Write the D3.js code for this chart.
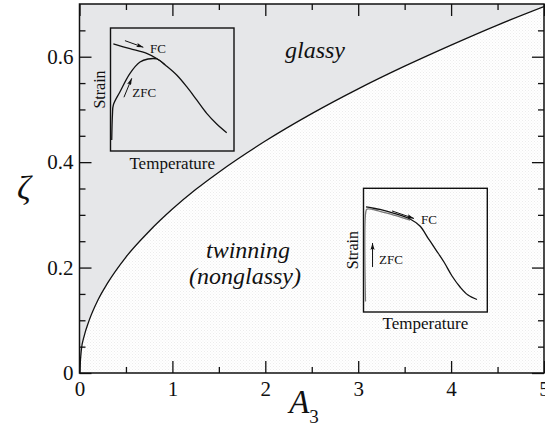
<!DOCTYPE html>
<html>
<head>
<meta charset="utf-8">
<script src="https://cdn.jsdelivr.net/npm/d3@7"></script>
<style>
  html, body { margin: 0; padding: 0; background: #fff; }
  svg { display: block; }
  text { font-family: "Liberation Serif", "DejaVu Serif", serif; fill: #111; }
</style>
</head>
<body>
<svg id="chart" width="545" height="429"></svg>
<script>
// Phase boundary between glassy and twinning regimes
const boundaryA3   = [0, 0.02, 0.05, 0.1, 0.2, 0.3, 0.5, 0.75, 1, 1.25, 1.5, 2, 2.5, 3, 3.5, 4, 4.5, 5];
const boundaryZeta = [0, 0.044, 0.070, 0.098, 0.139, 0.170, 0.220, 0.269, 0.311, 0.348, 0.381, 0.440, 0.492, 0.539, 0.582, 0.622, 0.660, 0.695];

const xTicks = [0, 1, 2, 3, 4, 5];
const xMinor = [0.5, 1.5, 2.5, 3.5, 4.5];
const yTicks = [0, 0.2, 0.4, 0.6];
const yMinor = [0.05, 0.1, 0.15, 0.25, 0.3, 0.35, 0.45, 0.5, 0.55, 0.65];

// Schematic strain vs temperature curves (normalized inset units)
const glassyFcT   = [0.023, 0.158, 0.293, 0.377, 0.455, 0.536, 0.617, 0.698, 0.779, 0.860, 0.941];
const glassyFcS   = [0.870, 0.832, 0.794, 0.750, 0.690, 0.618, 0.523, 0.415, 0.306, 0.220, 0.149];
const glassyZfcT  = [0.010, 0.016, 0.023, 0.077, 0.158, 0.239, 0.304, 0.377, 0.441];
const glassyZfcS  = [0.089, 0.300, 0.374, 0.482, 0.632, 0.724, 0.748, 0.748, 0.702];

const twinFcT  = [0.020, 0.069, 0.133, 0.254, 0.376, 0.456, 0.521, 0.586, 0.650, 0.715, 0.780, 0.844, 0.917];
const twinFcS  = [0.849, 0.841, 0.829, 0.796, 0.752, 0.695, 0.598, 0.501, 0.404, 0.291, 0.202, 0.137, 0.101];
const twinZfcT = [0.016, 0.018, 0.028, 0.133, 0.254, 0.376];
const twinZfcS = [0.085, 0.805, 0.832, 0.814, 0.781, 0.742];

const svg = d3.select("#chart");
const M = { left: 79.5, right: 544, top: 4, bottom: 373 };

const x = d3.scaleLinear().domain([0, 5]).range([M.left, M.right]);
const y = d3.scaleLinear().domain([0, 0.7]).range([M.bottom, M.top]);

const defs = svg.append("defs");
defs.append("clipPath").attr("id", "plotClip")
  .append("rect").attr("x", M.left).attr("y", M.top)
  .attr("width", M.right - M.left).attr("height", M.bottom - M.top);

// faint stipple for the twinning region
const pat = defs.append("pattern").attr("id", "stipple")
  .attr("patternUnits", "userSpaceOnUse").attr("width", 3).attr("height", 3);
pat.append("rect").attr("width", 3).attr("height", 3).attr("fill", "#ffffff");
pat.append("rect").attr("x", 0).attr("y", 0).attr("width", 1).attr("height", 1).attr("fill", "#ececec");
pat.append("rect").attr("x", 1.5).attr("y", 1.5).attr("width", 1).attr("height", 1).attr("fill", "#f1f1f1");

defs.append("marker").attr("id", "arrow")
  .attr("viewBox", "0 0 10 6").attr("refX", 10).attr("refY", 3)
  .attr("markerWidth", 7).attr("markerHeight", 4.2)
  .attr("markerUnits", "userSpaceOnUse").attr("orient", "auto")
  .append("path").attr("d", "M0,0 L10,3 L0,6 L2,3 Z").attr("fill", "#111");

const boundary = boundaryA3.map((a, i) => [a, boundaryZeta[i]]);
const plot = svg.append("g").attr("clip-path", "url(#plotClip)");

plot.append("path").datum(boundary)
  .attr("fill", "#e6e7e9")
  .attr("d", d3.area().x(d => x(d[0])).y0(y(0.7)).y1(d => y(d[1])).curve(d3.curveMonotoneX));
plot.append("path").datum(boundary)
  .attr("fill", "url(#stipple)")
  .attr("d", d3.area().x(d => x(d[0])).y0(y(0)).y1(d => y(d[1])).curve(d3.curveMonotoneX));
plot.append("path").datum(boundary)
  .attr("fill", "none").attr("stroke", "#111").attr("stroke-width", 1.3)
  .attr("d", d3.line().x(d => x(d[0])).y(d => y(d[1])).curve(d3.curveMonotoneX));

// axes with inward ticks on all four sides
function styleAxis(g) {
  g.select(".domain").remove();
  g.selectAll("line").attr("stroke", "#111").attr("stroke-width", 1.3);
  g.selectAll("text").attr("font-family", "Liberation Serif, serif").attr("font-size", 21).attr("fill", "#111");
}
const fmtY = d => d === 0 ? "0" : d3.format(".1f")(d);

svg.append("g").attr("transform", `translate(0,${M.bottom})`)
  .call(d3.axisBottom(x).tickValues(xTicks).tickSize(-12).tickSizeOuter(0).tickPadding(8).tickFormat(d3.format("d")))
  .call(styleAxis);
svg.append("g").attr("transform", `translate(0,${M.bottom})`)
  .call(d3.axisBottom(x).tickValues(xMinor).tickSize(-6).tickSizeOuter(0).tickFormat(""))
  .call(styleAxis);
svg.append("g").attr("transform", `translate(0,${M.top})`)
  .call(d3.axisTop(x).tickValues(xTicks).tickSize(-12).tickSizeOuter(0).tickFormat(""))
  .call(styleAxis);
svg.append("g").attr("transform", `translate(0,${M.top})`)
  .call(d3.axisTop(x).tickValues(xMinor).tickSize(-6).tickSizeOuter(0).tickFormat(""))
  .call(styleAxis);
svg.append("g").attr("transform", `translate(${M.left},0)`)
  .call(d3.axisLeft(y).tickValues(yTicks).tickSize(-12).tickSizeOuter(0).tickPadding(6).tickFormat(fmtY))
  .call(styleAxis);
svg.append("g").attr("transform", `translate(${M.left},0)`)
  .call(d3.axisLeft(y).tickValues(yMinor).tickSize(-6).tickSizeOuter(0).tickFormat(""))
  .call(styleAxis);
svg.append("g").attr("transform", `translate(${M.right},0)`)
  .call(d3.axisRight(y).tickValues(yTicks).tickSize(-12).tickSizeOuter(0).tickFormat(""))
  .call(styleAxis);
svg.append("g").attr("transform", `translate(${M.right},0)`)
  .call(d3.axisRight(y).tickValues(yMinor).tickSize(-6).tickSizeOuter(0).tickFormat(""))
  .call(styleAxis);

svg.append("rect").attr("x", M.left).attr("y", M.top)
  .attr("width", M.right - M.left).attr("height", M.bottom - M.top)
  .attr("fill", "none").attr("stroke", "#111").attr("stroke-width", 1.5);

// axis titles
svg.append("text").attr("x", 24).attr("y", 199).attr("text-anchor", "middle")
  .attr("font-size", 34).attr("font-style", "italic").text("ζ");
const xt = svg.append("text").attr("x", 304).attr("y", 413).attr("text-anchor", "middle")
  .attr("font-size", 33).attr("font-style", "italic");
xt.append("tspan").text("A");
xt.append("tspan").attr("font-size", 19).attr("font-style", "normal").attr("dy", 10).text("3");

// region labels
svg.append("text").attr("x", 315).attr("y", 58).attr("text-anchor", "middle")
  .attr("font-size", 24).attr("font-style", "italic").text("glassy");
svg.append("text").attr("x", 248).attr("y", 258).attr("text-anchor", "middle")
  .attr("font-size", 24).attr("font-style", "italic").text("twinning");
svg.append("text").attr("x", 245).attr("y", 284).attr("text-anchor", "middle")
  .attr("font-size", 24).attr("font-style", "italic").text("(nonglassy)");

// inset drawing
function drawInset(box, fcT, fcS, zfcT, zfcS, zfcColor, ann) {
  const ix = d3.scaleLinear().domain([0, 1]).range([box.x0, box.x1]);
  const iy = d3.scaleLinear().domain([0, 1]).range([box.y1, box.y0]);
  const g = svg.append("g");
  g.append("rect").attr("x", box.x0).attr("y", box.y0)
    .attr("width", box.x1 - box.x0).attr("height", box.y1 - box.y0)
    .attr("fill", "none").attr("stroke", "#111").attr("stroke-width", 1.4);
  const line = d3.line().x(d => ix(d[0])).y(d => iy(d[1])).curve(d3.curveCatmullRom.alpha(0.5));
  g.append("path").datum(zfcT.map((t, i) => [t, zfcS[i]]))
    .attr("fill", "none").attr("stroke", zfcColor).attr("stroke-width", 1.3).attr("d", line);
  g.append("path").datum(fcT.map((t, i) => [t, fcS[i]]))
    .attr("fill", "none").attr("stroke", "#111").attr("stroke-width", 1.3).attr("d", line);
  ann.arrows.forEach(a => {
    g.append("line").attr("x1", ix(a[0])).attr("y1", iy(a[1])).attr("x2", ix(a[2])).attr("y2", iy(a[3]))
      .attr("stroke", "#111").attr("stroke-width", 1).attr("marker-end", "url(#arrow)");
  });
  ann.labels.forEach(l => {
    g.append("text").attr("x", ix(l[0])).attr("y", iy(l[1])).attr("font-size", 13).text(l[2]);
  });
  g.append("text").attr("transform", `translate(${box.x0 - 6},${(box.y0 + box.y1) / 2}) rotate(-90)`)
    .attr("text-anchor", "middle").attr("font-size", 16).text("Strain");
  g.append("text").attr("x", (box.x0 + box.x1) / 2).attr("y", box.y1 + ann.tempDy)
    .attr("text-anchor", "middle").attr("font-size", 17).text("Temperature");
}

drawInset({ x0: 110.5, x1: 234, y0: 28, y1: 151 }, glassyFcT, glassyFcS, glassyZfcT, glassyZfcS, "#111", {
  arrows: [[0.117, 0.897, 0.266, 0.843], [0.109, 0.437, 0.172, 0.591]],
  labels: [[0.32, 0.797, "FC"], [0.177, 0.439, "ZFC"]],
  tempDy: 18
});
drawInset({ x0: 363.5, x1: 487.3, y0: 188.3, y1: 312 }, twinFcT, twinFcS, twinZfcT, twinZfcS, "#777", {
  arrows: [[0.230, 0.817, 0.408, 0.756], [0.073, 0.364, 0.073, 0.558]],
  labels: [[0.464, 0.711, "FC"], [0.125, 0.388, "ZFC"]],
  tempDy: 17
});
</script>
</body>
</html>
